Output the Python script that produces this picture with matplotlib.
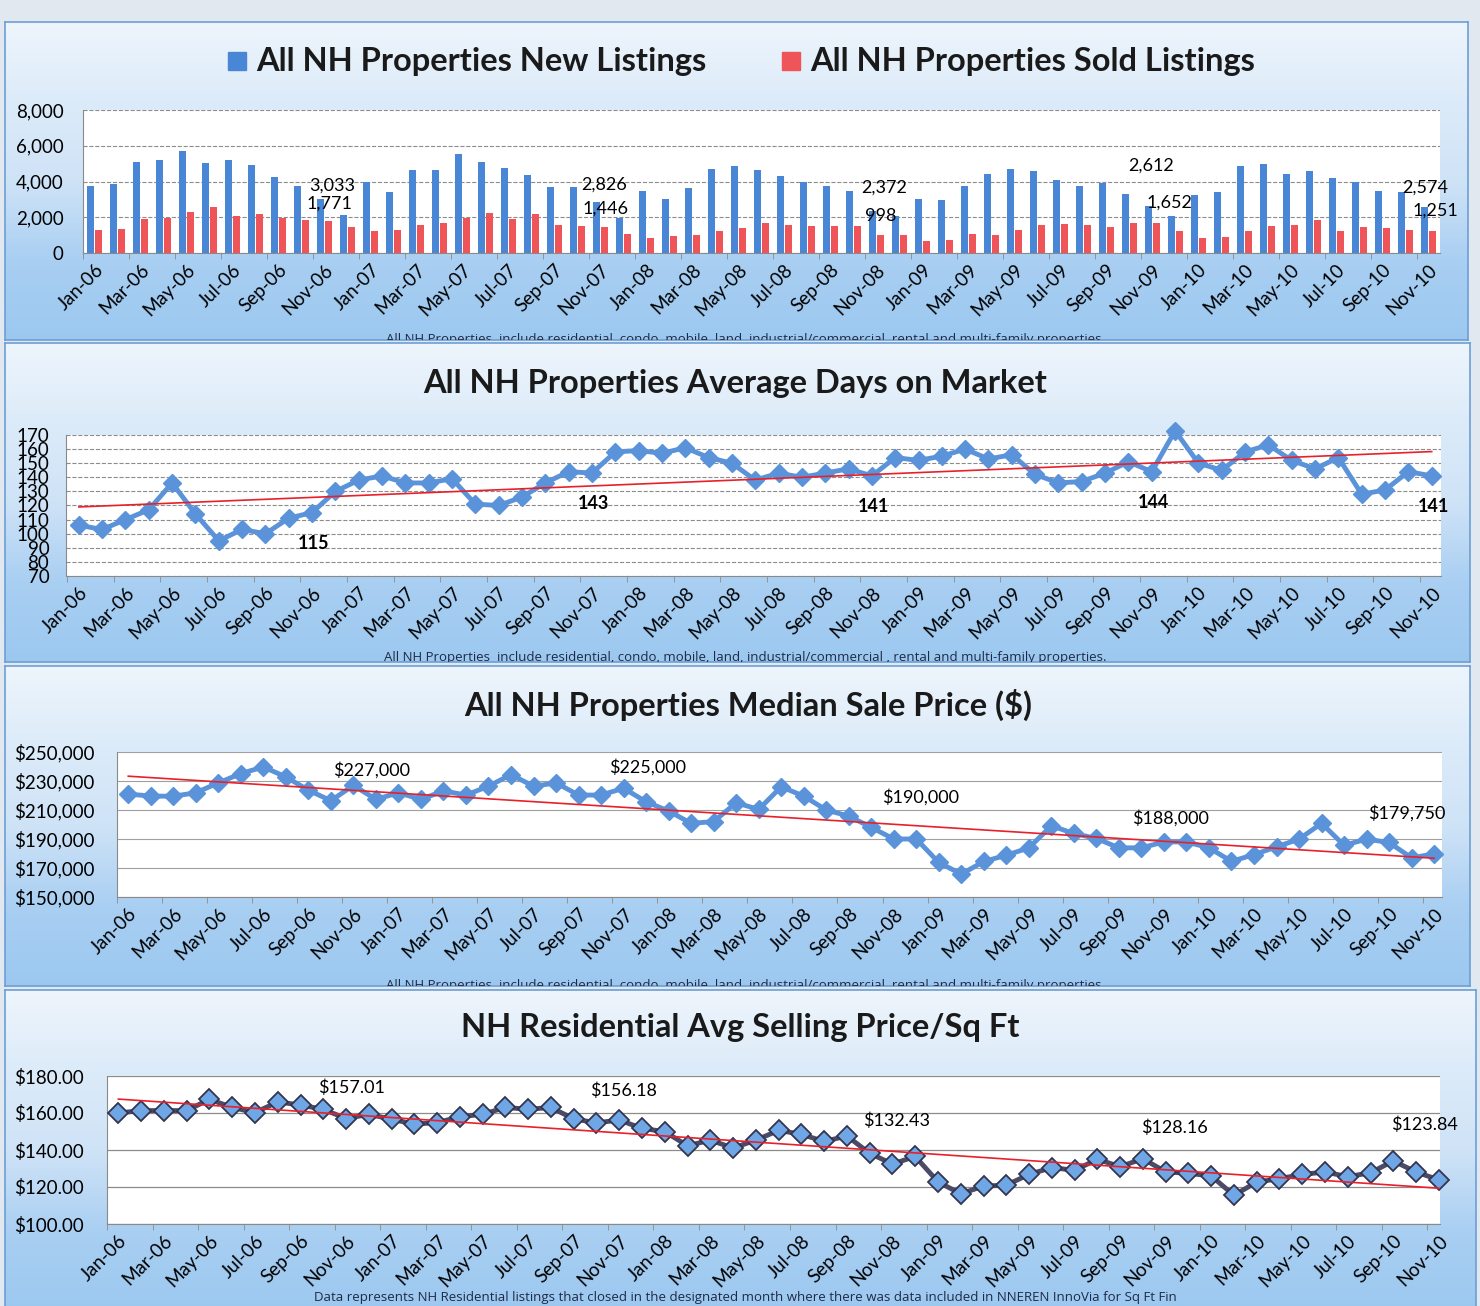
import numpy as np
import matplotlib.pyplot as plt
from matplotlib.colors import LinearSegmentedColormap

plt.rcParams['font.family'] = ['Lato', 'DejaVu Sans']

# month labels Jan-06 .. Nov-10
mon = ["Jan", "Feb", "Mar", "Apr", "May", "Jun", "Jul", "Aug", "Sep", "Oct", "Nov", "Dec"]
months = [f"{m}-{y:02d}" for y in range(6, 11) for m in mon][:59]

new_listings = [3738, 3850, 5084, 5215, 5682, 5047, 5196, 4897, 4243, 3757,
                3033, 2131, 3981, 3439, 4636, 4636, 5533, 5103, 4748, 4374,
                3720, 3682, 2826, 1981, 3495, 3009, 3645, 4710, 4878, 4654,
                4280, 3963, 3757, 3495, 2372, 2056, 3009, 2990, 3757, 4411,
                4673, 4561, 4093, 3738, 3906, 3308, 2612, 2056, 3234, 3439,
                4841, 4953, 4393, 4598, 4168, 3981, 3495, 3402, 2574]
sold_listings = [1308, 1346, 1925, 1981, 2318, 2598, 2056, 2168, 1981, 1869,
                 1771, 1477, 1215, 1271, 1551, 1682, 1981, 2224, 1907, 2200,
                 1570, 1533, 1446, 1084, 860, 935, 991, 1234, 1402, 1682,
                 1589, 1533, 1514, 1495, 998, 1010, 654, 730, 1047, 1028,
                 1271, 1570, 1645, 1551, 1439, 1682, 1652, 1215, 822, 879,
                 1215, 1533, 1589, 1869, 1234, 1439, 1383, 1290, 1251]

days_on_market = [106, 103, 110, 117, 136, 114, 95, 103, 100, 111,
                  115, 130, 138, 141, 136, 136, 139, 121, 120, 126,
                  136, 144, 143, 158, 159, 157, 161, 154, 150, 138,
                  143, 140, 143, 146, 141, 154, 152, 155, 160, 153,
                  156, 142, 136, 137, 143, 151, 144, 173, 150, 145,
                  158, 163, 152, 146, 154, 128, 131, 144, 141]

median_price = [221000, 219600, 219500, 221900, 228700, 235100, 239700, 232800, 223700, 216400,
                227000, 217300, 221900, 217300, 223200, 220300, 226400, 234400, 226400, 228700,
                220300, 220300, 225000, 215700, 209300, 200800, 202000, 215000, 210400, 226000,
                219600, 210000, 205800, 198000, 190000, 190000, 173800, 165800, 174500, 178800,
                183900, 199100, 193800, 190400, 183900, 183900, 188000, 188000, 183900, 174600,
                179200, 184600, 189900, 200800, 185700, 189900, 187600, 177000, 179750]

price_sqft = [160.0, 161.3, 161.3, 161.3, 167.4, 163.0, 160.2, 166.0, 164.3, 162.0,
              157.01, 159.3, 156.6, 154.0, 154.8, 158.0, 159.3, 163.0, 162.0, 163.0,
              156.8, 154.7, 156.18, 151.7, 149.9, 142.3, 145.3, 141.1, 145.3, 150.6,
              148.5, 144.6, 147.6, 138.2, 132.43, 136.5, 122.8, 116.3, 120.5, 121.0,
              126.8, 130.5, 129.0, 135.0, 131.0, 135.3, 128.16, 127.4, 126.0, 115.5,
              122.7, 124.5, 126.8, 128.1, 125.6, 127.7, 134.1, 128.1, 123.84]

label_idx = [10, 22, 34, 46, 58]

W, H = 1480, 1306
fig = plt.figure(figsize=(W / 100, H / 100), dpi=100)
fig.patch.set_facecolor('#e2e8ef')


def rect(x0, y0, x1, y1):
    return [x0 / W, 1 - y1 / H, (x1 - x0) / W, (y1 - y0) / H]


cmap = LinearSegmentedColormap.from_list(
    'panel', ['#eef5fc', '#dcebf9', '#cfe3f7', '#a9cff2', '#9cc8f0'])
grad = np.linspace(0, 1, 256).reshape(-1, 1)

panels = [(5, 22, 1468, 340), (5, 343, 1470, 662), (5, 666, 1470, 986), (5, 990, 1476, 1312)]
notes = [
    "All NH Properties  include residential, condo, mobile, land, industrial/commercial, rental and multi-family properties.",
    "All NH Properties  include residential, condo, mobile, land, industrial/commercial , rental and multi-family properties.",
    "All NH Properties  include residential, condo, mobile, land, industrial/commercial, rental and multi-family properties.",
    "Data represents NH Residential listings that closed in the designated month where there was data included in NNEREN InnoVia for Sq Ft Fin",
]
note_y = [339, 658, 985, 1298]
plot_rects = [(83, 110, 1440, 253), (66, 435, 1441, 576), (117, 752, 1442, 897), (107, 1076, 1440, 1224)]
ypads = [14, 12, 16, 17]


def make_panel(k):
    p = panels[k]
    bg = fig.add_axes(rect(*p))
    bg.imshow(grad, aspect='auto', cmap=cmap, extent=[0, 1, 0, 1])
    bg.set_xlim(0, 1)
    bg.set_ylim(0, 1)
    bg.set_xticks([])
    bg.set_yticks([])
    for s in bg.spines.values():
        s.set_color('#6c9fd6')
        s.set_linewidth(1.2)
    ph = p[3] - p[1]
    bg.text((745 - p[0]) / (p[2] - p[0]), (p[3] - note_y[k]) / ph, notes[k],
            ha='center', va='center', fontsize=9.5, color='#1f2a44', clip_on=True,
            family=['Open Sans', 'DejaVu Sans'])
    ax = fig.add_axes(rect(*plot_rects[k]))
    ax.set_facecolor('white')
    for s in ['top', 'right']:
        ax.spines[s].set_visible(False)
    ax.spines['left'].set_color('#8a8a8a')
    ax.spines['bottom'].set_color('#8a8a8a')
    ax.tick_params(axis='y', length=0, labelsize=13.5, pad=ypads[k])
    return bg, ax


def month_axis(ax, xlim):
    x = np.arange(len(months))
    ax.set_xlim(*xlim)
    ax.set_xticks(x[::2])
    ax.set_xticklabels(months[::2], rotation=45, ha='right', rotation_mode='anchor', fontsize=13.5)
    ax.tick_params(axis='x', length=0, pad=6)
    ax.set_xticks(np.arange(-0.5, 59, 2), minor=True)
    ax.tick_params(axis='x', which='minor', length=4, color='#8a8a8a')


x = np.arange(len(months))
TITLE = 23.5

# ---- panel 1: listings bars
bg, ax = make_panel(0)
ax.bar(x - 0.16, new_listings, 0.3, color='#4a86d6', zorder=3)
ax.bar(x + 0.16, sold_listings, 0.3, color='#ef5459', zorder=3)
ax.set_ylim(0, 8000)
ax.set_yticks(range(0, 8001, 2000))
ax.set_yticklabels([f"{v:,}" for v in range(0, 8001, 2000)])
ax.yaxis.grid(True, ls='--', color='#8c8c8c', lw=0.8)
month_axis(ax, (-0.5, 58.5))
off_new = [(0.7, 3.6), (-2.2, 7.2), (0.7, 10.8), (-5.8, 23.7), (-7, 7.9)]
off_sold = [(-1.4, 7.2), (-1.4, 7.9), (-2.2, 7.9), (7.2, 9.4), (0, 8.6)]
for i, on, os_ in zip(label_idx, off_new, off_sold):
    ax.annotate(f"{new_listings[i]:,}", (x[i] + 0.3, new_listings[i]), xytext=on,
                textcoords='offset points', ha='center', va='bottom', fontsize=13)
    ax.annotate(f"{sold_listings[i]:,}", (x[i] + 0.3, sold_listings[i]), xytext=os_,
                textcoords='offset points', ha='center', va='bottom', fontsize=13)
fig.patches.append(plt.Rectangle((228 / W, 1 - 70 / H), 18 / W, 18 / H, color='#4a86d6',
                                 transform=fig.transFigure, figure=fig))
fig.patches.append(plt.Rectangle((782 / W, 1 - 70 / H), 18 / W, 18 / H, color='#ef5459',
                                 transform=fig.transFigure, figure=fig))
fig.text(256 / W, 1 - 61 / H, "All NH Properties New Listings", fontsize=TITLE, fontweight='bold',
         va='center', ha='left', color='#1a1a1a')
fig.text(810 / W, 1 - 61 / H, "All NH Properties Sold Listings", fontsize=TITLE, fontweight='bold',
         va='center', ha='left', color='#1a1a1a')

# ---- panel 2: days on market
bg, ax = make_panel(1)
ax.plot(x, days_on_market, color='#5a93da', lw=3.5, marker='D', ms=9, zorder=3, clip_on=False)
fit = np.polyfit(x, days_on_market, 1)
ax.plot(x, np.polyval(fit, x), color='#e8202a', lw=1.2, zorder=4)
ax.set_ylim(70, 170)
ax.set_yticks(range(70, 171, 10))
ax.yaxis.grid(True, ls='--', color='#8c8c8c', lw=0.8)
month_axis(ax, (-0.55, 58.4))
for i in label_idx:
    ax.annotate(f"{days_on_market[i]}", (x[i], days_on_market[i]), xytext=(1, -16),
                textcoords='offset points', ha='center', va='top', fontsize=13, fontweight='bold')
fig.text(735 / W, 1 - 383 / H, "All NH Properties Average Days on Market", fontsize=TITLE,
         fontweight='bold', ha='center', va='center', color='#1a1a1a')

# ---- panel 3: median sale price
bg, ax = make_panel(2)
ax.plot(x, median_price, color='#5a93da', lw=3.5, marker='D', ms=9, zorder=3, clip_on=False)
fit = np.polyfit(x, median_price, 1)
ax.plot(x, np.polyval(fit, x), color='#e8202a', lw=1.2, zorder=4)
ax.set_ylim(150000, 250000)
ax.set_yticks(range(150000, 250001, 20000))
ax.set_yticklabels([f"${v:,}" for v in range(150000, 250001, 20000)])
ax.yaxis.grid(True, color='#a0a0a0', lw=0.8)
month_axis(ax, (-0.45, 58.35))
off3 = [(13, 11), (17, 15), (19, 30), (5, 17), (-20, 29)]
for i, o in zip(label_idx, off3):
    ax.annotate(f"${median_price[i]:,}", (x[i], median_price[i]), xytext=o,
                textcoords='offset points', ha='center', va='center', fontsize=13)
fig.text(748 / W, 1 - 705 / H, "All NH Properties Median Sale Price ($)", fontsize=TITLE,
         fontweight='bold', ha='center', va='center', color='#1a1a1a')

# ---- panel 4: price per sq ft
bg, ax = make_panel(3)
ax.plot(x, price_sqft, color='#4b4b68', lw=3.5, marker='D', ms=10, mfc='#6fa6e6',
        mec='#34344e', mew=1.3, zorder=3, clip_on=False)
fit = np.polyfit(x, price_sqft, 1)
ax.plot(x, np.polyval(fit, x), color='#e8202a', lw=1.2, zorder=4)
ax.set_ylim(100, 180)
ax.set_yticks(range(100, 181, 20))
ax.set_yticklabels([f"${v:.2f}" for v in range(100, 181, 20)])
ax.yaxis.grid(True, color='#8c8c8c', lw=0.9)
month_axis(ax, (-0.05, 58.05))
off4 = [(4, 22), (3, 21), (3, 31), (6, 32), (-10, 40)]
for i, (dx, dy) in zip(label_idx, off4):
    ax.annotate(f"${price_sqft[i]:.2f}", (x[i], price_sqft[i]), xytext=(dx, dy),
                textcoords='offset points', ha='center', va='center', fontsize=13)
fig.text(740 / W, 1 - 1028 / H, "NH Residential Avg Selling Price/Sq Ft", fontsize=TITLE,
         fontweight='bold', ha='center', va='center', color='#1a1a1a')

fig.savefig('out.png', dpi=100, facecolor=fig.get_facecolor())
